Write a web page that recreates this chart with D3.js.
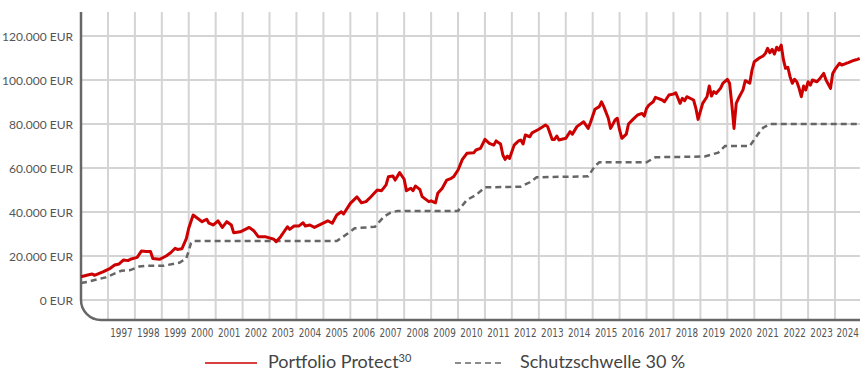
<!DOCTYPE html>
<html>
<head>
<meta charset="utf-8">
<script src="https://cdn.jsdelivr.net/npm/d3@7"></script>
<style>
  html, body { margin: 0; padding: 0; background: #fff; }
  svg { display: block; font-family: Lato, "Open Sans", sans-serif; }
  .year { font-family: "Liberation Sans Narrow", "DejaVu Sans Condensed", Lato, sans-serif; }
</style>
</head>
<body>
<svg id="chart" width="860" height="372"></svg>
<script>
// Portfolio value (month, EUR)
const portfolioDates = [
  "1996-01","1996-04","1996-06","1996-07","1996-11","1997-02","1997-04","1997-06","1997-08","1997-10",
  "1997-11","1998-02","1998-04","1998-06","1998-08","1998-09","1998-12","1999-03","1999-05","1999-07",
  "1999-08","1999-10","1999-12","2000-01","2000-03","2000-07","2000-09","2000-10","2000-12","2001-02",
  "2001-04","2001-06","2001-08","2001-09","2001-12","2002-04","2002-06","2002-08","2002-11","2003-03",
  "2003-04","2003-06","2003-09","2003-10","2003-12","2004-02","2004-04","2004-05","2004-07","2004-09",
  "2004-12","2005-03","2005-05","2005-07","2005-09","2005-10","2006-01","2006-04","2006-06","2006-08",
  "2006-10","2007-01","2007-03","2007-05","2007-06","2007-08","2007-09","2007-11","2008-01","2008-02",
  "2008-04","2008-05","2008-06","2008-08","2008-09","2008-12","2009-01","2009-03","2009-04","2009-06",
  "2009-08","2009-10","2009-11","2010-01","2010-03","2010-05","2010-08","2010-09","2010-11","2011-01",
  "2011-03","2011-05","2011-06","2011-08","2011-09","2011-10","2011-11","2011-12","2012-02","2012-04",
  "2012-05","2012-06","2012-07","2012-09","2012-10","2013-01","2013-04","2013-05","2013-07","2013-08",
  "2013-09","2013-10","2014-01","2014-03","2014-04","2014-06","2014-09","2014-11","2014-12","2015-02",
  "2015-04","2015-05","2015-06","2015-08","2015-09","2015-11","2015-12","2016-01","2016-02","2016-04",
  "2016-05","2016-07","2016-09","2016-11","2016-12","2017-01","2017-02","2017-04","2017-05","2017-08",
  "2017-09","2017-11","2018-01","2018-02","2018-04","2018-05","2018-06","2018-07","2018-10","2018-11",
  "2018-12","2019-02","2019-04","2019-05","2019-06","2019-07","2019-08","2019-10","2019-11","2020-01",
  "2020-02","2020-03","2020-04","2020-05","2020-06","2020-08","2020-09","2020-11","2020-12","2021-01",
  "2021-03","2021-05","2021-06","2021-07","2021-08","2021-09","2021-10","2021-11","2021-12","2022-01",
  "2022-02","2022-03","2022-04","2022-05","2022-06","2022-07","2022-08","2022-09","2022-10","2022-11",
  "2022-12","2023-01","2023-02","2023-03","2023-05","2023-06","2023-08","2023-09","2023-11","2023-12",
  "2024-01","2024-03","2024-04","2024-06","2024-07","2024-09","2024-10","2024-11","2024-12"
];
const portfolioValues = [
  10600,11360,11800,11200,12900,14400,15900,16400,18200,17900,
  18500,19400,22300,22000,22000,18900,18500,20000,21500,23500,
  23000,23300,28000,32600,38600,35600,36700,34900,34100,36000,
  33000,35600,34100,30600,31000,33000,31500,28800,28800,27600,
  26500,28800,33300,32100,33600,33600,35100,33600,34100,33000,
  34500,36000,34900,38600,40100,39100,43900,46900,44200,44700,
  46700,50000,49700,52300,56000,56400,54500,57900,54900,49700,
  50800,49700,51800,50300,47000,44700,45100,44200,48500,50800,
  54500,55300,56000,59100,63900,66700,66900,68200,68900,73000,
  71200,70400,72300,70900,65900,63900,65400,64400,70400,72300,
  72700,70900,75000,74200,76000,77600,79500,78800,73000,73000,
  74500,72700,73500,76500,75400,78800,81000,78000,80600,86700,
  87900,90100,87900,82600,78000,81800,82600,77300,73500,75400,
  80000,82100,84100,84800,83600,87100,88600,90100,92100,90900,
  90100,93200,93600,94200,89400,91700,90600,92400,90900,87100,
  82100,89400,92400,97300,92700,94700,93900,96200,98500,100300,
  98500,89400,78000,89400,91700,95500,99700,98500,104500,108300,
  109800,110900,112100,114400,112400,113900,111800,114900,113600,115900,
  109100,105300,105800,101500,98500,100300,99200,96200,92400,97300,
  95500,99200,97700,100000,99200,100300,103000,100000,96200,103000,
  104800,107600,106800,107600,107900,108800,109100,109400,109800
];

// Protection threshold (30 %), month and EUR
const thresholdDates = [
  "1996-01","1996-04","1996-12","1997-07","1997-11","1998-03","1998-06","1999-02","1999-09","1999-12",
  "2000-02","2000-03","2005-07","2005-12","2006-03","2006-12","2007-04","2007-07","2007-10","2010-01",
  "2010-05","2010-09","2011-01","2012-05","2012-09","2012-12","2014-11","2015-02","2015-04","2017-01",
  "2017-05","2019-03","2019-09","2019-12","2020-11","2021-03","2021-05","2021-08","2024-12"
];
const thresholdValues = [
  7700,8300,10300,13300,13600,15200,15600,15600,17000,19000,
  25800,26800,26800,30300,32600,33300,37900,39700,40500,40500,
  45500,47700,51200,51500,53500,55800,56200,60900,62600,62600,
  64900,65200,67000,70000,70000,75800,78300,80000,80000
];

const yTicks = [0, 20000, 40000, 60000, 80000, 100000, 120000];
const yearLabels = d3.range(1997, 2025);
const seriesNames = ["Portfolio Protect", "Schutzschwelle 30\u202F%"];

const parse = d3.timeParse("%Y-%m");
const portfolio = portfolioDates.map((d, i) => ({ date: parse(d), value: portfolioValues[i] }));
const threshold = thresholdDates.map((d, i) => ({ date: parse(d), value: thresholdValues[i] }));

const svg = d3.select("#chart");
const plotLeft = 81, plotRight = 860, plotTop = 12, plotBottom = 320;

const x = d3.scaleTime()
  .domain([new Date(1996, 0, 1), new Date(2025, 0, 1)])
  .range([plotLeft, 862]);
const y = d3.scaleLinear().domain([0, 120000]).range([300, 36]);

const de = d3.formatLocale({ decimal: ",", thousands: ".", grouping: [3], currency: ["", " EUR"] });
const fmt = de.format("$,.0f");

// grid
const grid = svg.append("g").attr("stroke", "#d4d4d4").attr("stroke-width", 2);
grid.selectAll("line.h").data(yTicks).join("line")
  .attr("class", "h")
  .attr("x1", plotLeft).attr("x2", plotRight)
  .attr("y1", d => y(d)).attr("y2", d => y(d));
grid.selectAll("line.v").data(yearLabels).join("line")
  .attr("class", "v")
  .attr("x1", d => x(new Date(d, 0, 1))).attr("x2", d => x(new Date(d, 0, 1)))
  .attr("y1", plotTop).attr("y2", plotBottom);

// frame: left and bottom axis with rounded corner
const r = 20;
svg.append("path")
  .attr("d", `M${plotLeft},${plotTop} V${plotBottom - r} A${r},${r} 0 0 0 ${plotLeft + r},${plotBottom} H${plotRight}`)
  .attr("fill", "none").attr("stroke", "#676767").attr("stroke-width", 2.5);

// y labels
svg.append("g").selectAll("text").data(yTicks).join("text")
  .attr("x", 73).attr("y", d => y(d))
  .attr("text-anchor", "end").attr("dominant-baseline", "central")
  .attr("font-size", 12).attr("fill", "#555")
  .text(d => fmt(d));

// year labels, centred within each year (kept inside the right edge)
const labelW = 22.5;
svg.append("g").selectAll("text").data(yearLabels).join("text")
  .attr("class", "year")
  .attr("x", d => Math.min((x(new Date(d, 0, 1)) + x(new Date(d + 1, 0, 1))) / 2, plotRight - labelW / 2 - 1))
  .attr("y", 337)
  .attr("text-anchor", "middle")
  .attr("font-size", 12.5).attr("fill", "#555")
  .attr("textLength", labelW).attr("lengthAdjust", "spacingAndGlyphs")
  .text(d => d);

const line = d3.line().x(d => x(d.date)).y(d => y(d.value));

svg.append("path").datum(threshold)
  .attr("d", line)
  .attr("fill", "none").attr("stroke", "#666").attr("stroke-width", 2.5)
  .attr("stroke-dasharray", "6,4");

svg.append("path").datum(portfolio)
  .attr("d", line)
  .attr("fill", "none").attr("stroke", "#cc0000").attr("stroke-width", 3)
  .attr("stroke-linejoin", "round");

// legend
const lg = svg.append("g");
lg.append("line").attr("x1", 205).attr("x2", 257).attr("y1", 363).attr("y2", 363)
  .attr("stroke", "#cc0000").attr("stroke-width", 1.5);
const t1 = lg.append("text").attr("x", 268).attr("y", 368)
  .attr("font-size", 18).attr("fill", "#444");
t1.append("tspan").text(seriesNames[0]);
t1.append("tspan").attr("font-size", 11).attr("dy", -6).text("30");

lg.append("line").attr("x1", 455).attr("x2", 504).attr("y1", 363).attr("y2", 363)
  .attr("stroke", "#666").attr("stroke-width", 1.5).attr("stroke-dasharray", "6,4");
lg.append("text").attr("x", 520).attr("y", 368)
  .attr("font-size", 18).attr("fill", "#444")
  .text(seriesNames[1]);
</script>
</body>
</html>
